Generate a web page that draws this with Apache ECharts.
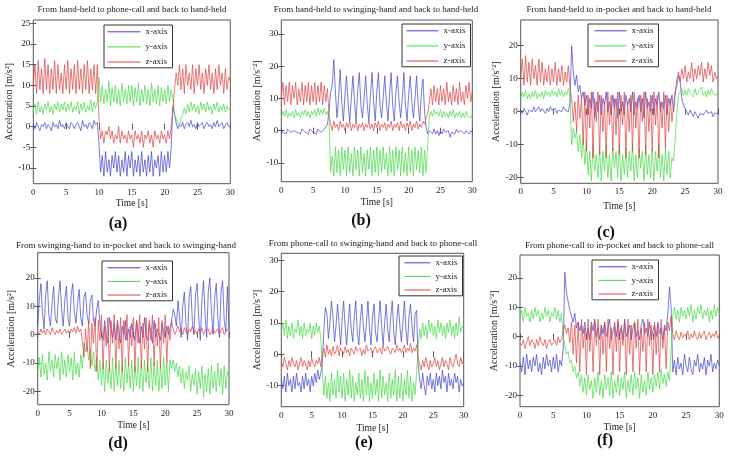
<!DOCTYPE html>
<html>
<head>
<meta charset="utf-8">
<script src="https://cdn.jsdelivr.net/npm/echarts@6/dist/echarts.min.js"></script>
<style>
html, body { margin: 0; padding: 0; background: #fff; }
#main { width: 729px; height: 462px; }
</style>
</head>
<body>
<div id="main"></div>
<script>
// sample spacing of the traces [s]
var dt = 0.25;

// (a) hand-held -> phone-call -> hand-held
var aX = [0.5,-0.5,1,0,-1,0.5,0,1,-0.5,0.5,0,-1,1,0,0.5,-0.5,1.5,0,0.5,-0.5,
  1,0,-0.5,1,0.5,-0.5,0.5,1,0,-1,1.5,0,0.5,-0.5,1,0.5,-0.5,1.5,0.5,1,
  -4,-11,-7,-12,-6,-11,-8,-12,-7,-10,-6,-11,-7,-12,-8,-11,-6,-12,-7,-10,
  -6,-12,-8,-11,-7,-12,-6,-11,-8,-12,-7,-11,-6,-12,-8,-10,-7,-12,-6,-11,
  -7,-11,-6,-10,-5,5,3,1,-0.5,0.5,0,1,-0.5,0.5,1,0,1.5,0,0.5,-0.5,
  1,0,0.5,1,-0.5,0.5,1,0,0.5,-0.5,1,0,1.5,0,0.5,1,-0.5,0.5,1,0,
  0];
var aY = [4,5.5,3,6,3.5,5,3,5.5,4,6,3.5,5,3,5.5,4,6,3.5,5.5,4,6,
  3.5,5.5,4,6,3.5,5,4,6,3,5.5,4,6,3.5,5,4,6.5,3.5,6,4.5,6,
  12,6,10,5.5,9,6,11,5,9.5,6,10,5.5,9,5,10.5,6,9,5.5,10,6,
  10,5,9.5,6,10.5,5,9,6,10,5.5,9,5,10.5,6,9,5.5,10,5,9.5,6,
  9,5.5,10,6,9,7,3,2,1,0.5,2,3,4.5,3,5.5,3.5,6,4,5.5,3.5,
  5,3,6,4,5.5,3.5,6,4,5,3,5.5,4,6,3.5,5,4,5.5,3.5,5,4,
  4.5];
var aZ = [10,15,8,16,9,14,8,16.5,9,15,8,14,9,16,8,15,9,13,8,15,
  9,16,8,14,9,15,8,16,9,14,8,15,9,16,8,14,9,15,8,15,
  2,-3,-1,-4,-1,-2,0,-3,-1,-4,-2,-3,0,-4,-1,-3,-2,-4,-1,-3,
  -2,-5,-1,-3,-2,-4,-1,-5,-2,-3,-1,-4,-2,-5,-1,-3,-2,-4,-1,-3,
  -2,-4,-1,-3,0,4,9,13,10,15,9,14,8,15,10,13,9,15,8,14,
  10,15,9,13,8,14,10,15,9,13,8,14,9,15,10,13,8,14,9,12,
  11];

// (b) hand-held -> swinging-hand -> hand-held
var bX = [0.5,-0.5,0,-1,0.5,0,-0.5,-1,0,0.5,-0.5,0,-1,0.5,0,-0.5,0,-1,0.5,0,
  -0.5,0,-1,0.5,0,-0.5,0,0.5,1,2,6,12,14,22,12,4,10,19,9,3,
  11,17,8,3,10,17,9,3,12,18,8,4,10,17,8,3,11,18,9,3,
  12,18,8,4,10,17,9,3,11,18,8,3,12,17,9,4,10,18,8,3,
  11,17,9,4,10,17,8,3,12,16,6,1,-1,0,-0.5,-1,0.5,-1,0,-1.5,
  0,-1,0.5,-0.5,-1,0,-2,-0.5,0,-1,0.5,-0.5,-1,0,-0.5,-1,0,-0.5,-1,0,
  -0.5];
var bY = [4,6,4.5,6.5,4,5.5,4.5,6,4,6.5,4.5,5.5,4,6,5,6.5,4.5,6,4,6,
  5,6.5,4.5,7,5,6.5,5,7,5,6,3,-13,-8,-14,-5,-13,-6,-14,-5,-12,
  -6,-14,-5,-13,-7,-14,-5,-12,-6,-14,-5,-13,-7,-14,-6,-12,-5,-14,-6,-13,
  -5,-14,-6,-13,-5,-12,-7,-14,-5,-13,-6,-14,-5,-12,-6,-14,-5,-13,-7,-14,
  -5,-13,-6,-14,-5,-12,-6,-13,-5,-14,-6,-13,-4,4,6,4.5,6.5,5,6,4.5,
  6.5,4,6,4.5,5.5,4,6,4.5,6.5,4,5.5,4.5,6,4,5.5,4,6,4.5,5,4,
  5];
var bZ = [10,15,8,14,9,15,8,14,10,15,8,13,9,15,8,14,9,15,8,14,
  9,15,8,14,9,15,8,14,9,13,5,2,0,3,1,2,0,3,1,2,
  0,2.5,1,3,0,2,1,3,0,2,1,2.5,0,2,1,3,0.5,2,0,2.5,
  1,3,0,2,1,2.5,0,2,1,3,0,2,1,2.5,0,3,1,2,0,2.5,
  1,3,0,2,1,3,0.5,2,1,3,2,4,5,9,13,8,14,9,13,8,
  14,9,13,8,15,9,12,8,14,9,13,8,15,9,12,8,14,10,15,9,
  12];

// (c) hand-held -> in-pocket -> hand-held
var cX = [0.5,-0.5,1,0,-1,0.5,1,0,1.5,0,0.5,1.5,0,1,0.5,-0.5,1,0,1.5,0.5,
  0,1,-0.5,0.5,1,0,1.5,0.5,1,0,3,20,12,8,11,6,8,4,6,2,
  5,-1,4,1,6,-2,3,0,5,-1,4,2,6,0,3,-1,5,1,4,-2,
  6,0,3,-1,5,2,4,0,6,-1,3,1,5,0,4,-2,6,1,3,0,
  5,-1,4,2,6,0,3,1,5,-1,4,2,5,0,6,8,11,9,4,2,
  1,0,-1,0.5,-0.5,-1.5,0,-1,-2,-0.5,0,-1,-1.5,0.5,-0.5,-1,0,-1.5,-0.5,-1,
  -0.5];
var cY = [4,6,4.5,6.5,4,5.5,4,6,4.5,6.5,4,5.5,4.5,6,4,6.5,5,6,4.5,6.5,
  5,6,4.5,7,5,6.5,4.5,6,5,7,5,-10,-5,-8,-6,-12,-7,-14,-8,-16,
  -9,-19,-12,-21,-10,-18,-13,-20,-11,-21,-12,-18,-10,-20,-13,-21,-11,-17,-12,-20,
  -10,-21,-13,-19,-11,-20,-12,-18,-10,-21,-13,-20,-11,-17,-12,-21,-10,-19,-13,-20,
  -11,-21,-12,-18,-10,-20,-13,-21,-11,-19,-12,-20,-14,-15,-8,0,5,6,7,5,
  6.5,5,7,5.5,6,4.5,7,5,6,5.5,7.5,5,6,4.5,6.5,5,7,5.5,6,5,
  6];
var cZ = [10,16,8,17,9,15,8,16,10,14,8,16,9,15,8,13,9,14,8,13,
  9,15,8,13,9,14,8,12,9,14,7,4,-3,3,-6,5,-2,4,-10,6,
  -12,5,-5,6,-14,4,-3,6,-13,5,-6,3,-14,6,-4,5,-12,4,-7,6,
  -13,5,-4,6,-14,3,-6,5,-12,6,-5,4,-14,5,-3,6,-13,4,-6,5,
  -12,6,-4,5,-14,3,-5,6,-11,5,-6,4,-3,2,6,10,12,9,13,10,
  14,9,12,10,15,9,13,10,14,11,15,9,13,10,15,11,14,9,12,10,
  11];

// (d) swinging-hand -> in-pocket -> swinging-hand
var dX = [3,12,18,8,2,14,19,7,3,11,17,6,4,13,19,9,3,12,17,6,
  3,14,18,8,4,11,16,6,3,13,15,7,4,12,14,5,3,9,12,4,
  1,-2,5,0,-3,6,2,-1,4,-2,5,1,-3,3,0,5,-2,2,-1,4,
  0,-2,5,1,-3,3,-1,6,0,-2,4,1,-3,5,-1,2,0,-2,4,1,
  -1,3,0,2,5,9,7,3,12,6,-1,10,15,4,-2,13,17,5,0,14,
  18,6,-2,12,19,7,-1,15,20,8,0,13,18,6,-1,15,19,5,1,17,
  2];
var dY = [-13,-8,-15,-7,-14,-10,-16,-6,-13,-9,-15,-7,-12,-8,-16,-6,-14,-9,-15,-7,
  -13,-8,-16,-6,-14,-10,-15,-7,-12,-3,-6,-4,-9,-5,-11,-6,-13,-8,-16,-9,
  -18,-10,-20,-9,-17,-11,-19,-8,-20,-10,-18,-9,-19,-11,-20,-8,-17,-10,-19,-9,
  -20,-11,-18,-8,-19,-10,-20,-9,-17,-11,-19,-8,-20,-10,-18,-9,-20,-11,-19,-8,
  -18,-10,-20,-9,-12,-9,-13,-10,-15,-11,-17,-12,-19,-13,-16,-11,-20,-14,-18,-12,
  -21,-13,-19,-11,-22,-14,-20,-12,-21,-11,-19,-13,-20,-10,-18,-12,-21,-11,-19,-13,
  -15];
var dZ = [1,0,2,0.5,1.5,0,2,1,0,2.5,1,0,1.5,0.5,2,0,1,2,0.5,1.5,
  0,2,1,2.5,0.5,3,1,2,-2,-8,2,-6,5,-12,4,-3,6,-13,5,-2,
  7,-12,3,-4,6,-13,5,-3,7,-12,4,-5,6,-13,5,-2,7,-11,3,-4,
  6,-13,5,-3,7,-12,4,-5,6,-13,5,-2,7,-11,4,-4,6,-12,5,-3,
  7,-10,3,-2,5,2,0,1.5,3,1,2,0,2.5,1,0,2,1,3,0.5,1.5,
  0,2,1,2.5,0,1.5,1,2,0,1,2.5,0.5,1,2,0,1.5,2.5,0,1,2,
  1];

// (e) phone-call -> swinging-hand -> phone-call
var eX = [-8,-11,-7,-12,-6,-10,-8,-12,-7,-11,-6,-10,-9,-12,-7,-11,-6,-10,-8,-12,
  -7,-10,-6,-9,-5,-8,-6,-3,8,15,13,5,10,17,12,4,9,16,10,3,
  11,17,9,3,10,16,8,4,12,17,7,3,11,16,9,4,10,17,8,3,
  12,16,7,4,11,17,9,3,10,16,8,4,12,17,7,3,11,16,9,4,
  10,17,8,3,12,16,9,4,13,14,-3,-8,-11,-6,-10,-13,-7,-10,-6,-11,
  -8,-12,-6,-10,-7,-11,-5,-9,-7,-12,-6,-10,-8,-11,-6,-9,-7,-12,-8,-10,
  -9];
var eY = [7,10,6,11,5,9,6,10,5,8,7,11,6,9,5,10,6,8,7,10,
  5,9,6,10,7,9,5,-5,-13,-7,-14,-9,-15,-6,-13,-8,-14,-5,-12,-7,
  -14,-6,-15,-8,-13,-5,-14,-7,-15,-9,-13,-6,-14,-8,-15,-5,-13,-7,-15,-9,
  -14,-6,-13,-8,-15,-5,-14,-7,-13,-9,-15,-6,-14,-8,-13,-5,-15,-7,-14,-6,
  -15,-8,-13,-5,-14,-7,-15,-9,-13,-6,2,8,5,10,6,9,5,11,7,10,
  6,9,5,11,7,10,6,9,5,10,7,11,6,9,5,10,6,12,7,9,
  8];
var eZ = [-2,-4,-1,-3,-5,-2,-4,-1,-3,-4,-2,-5,-3,-1,-4,-2,-3,-5,-2,-4,
  -1,-3,-4,-2,-3,-1,-4,0,2,-1,3,0,1.5,-0.5,2.5,0,1,3,-0.5,2,
  1,0,2.5,0.5,1.5,-0.5,2,1,0,2.5,1,0.5,2,-0.5,1.5,0,3,1,0.5,2,
  0,1.5,2.5,0.5,1,2,0,3,1,0.5,2.5,1,0,2,1.5,0.5,3,1,2,0.5,
  1.5,3,0.5,2,1,3.5,0.5,2,1,3,-1,-3,-5,-2,-4,-1,-3,-5,-2,-4,
  -3,-1,-4,-2,-5,-3,-1,-4,-2,-3,-5,-1,-3,-4,-2,0,-3,-4,-1,-3,
  -2];

// (f) phone-call -> in-pocket -> phone-call
var fX = [-9,-12,-7,-13,-6,-11,-8,-12,-7,-10,-6,-12,-9,-13,-7,-11,-6,-10,-8,-12,
  -7,-11,-6,-12,-8,-10,-4,22,15,12,9,7,5,8,3,5,2,4,1,5,
  0,3,-1,5,2,6,0,3,-1,4,1,5,0,3,6,-1,2,4,0,5,
  1,3,-1,6,0,2,4,-1,3,5,0,2,-1,4,6,1,3,0,5,-1,
  2,4,0,5,1,3,-1,4,2,8,17,10,-12,-8,-13,-7,-11,-9,-13,-6,
  -10,-12,-7,-11,-13,-8,-10,-6,-12,-9,-11,-7,-13,-8,-10,-6,-12,-9,-11,-8,
  -10];
var fY = [6,9,5,10,7,8,5,9,6,10,7,9,5,8,6,10,7,9,5,8,
  7,10,6,9,5,8,0,-3,-6,-5,-9,-8,-12,-10,-14,-12,-17,-13,-19,-14,
  -20,-13,-18,-15,-21,-14,-19,-12,-20,-15,-21,-13,-18,-14,-20,-12,-21,-15,-19,-13,
  -20,-14,-18,-12,-21,-15,-19,-13,-20,-12,-18,-14,-21,-13,-19,-15,-20,-12,-18,-14,
  -19,-13,-17,-12,-18,-11,-16,-13,-17,-12,-15,-5,7,10,6,9,5,10,7,9,
  6,10,7,11,5,9,6,10,8,11,6,9,7,10,5,9,6,11,7,10,
  8];
var fZ = [-2,-3,-1,-4,-2,0,-3,-1,-2,-4,-1,-3,0,-2,-3,-1,-4,-2,-1,-3,
  -2,-1,-3,0,-2,-1,2,4,1,3,-2,5,-6,4,-9,5,-12,6,-4,3,
  -13,6,-5,4,-12,5,-3,6,-13,4,-6,5,-12,6,-4,3,-13,5,-5,6,
  -12,4,-3,5,-13,6,-6,4,-12,5,-4,6,-13,3,-5,5,-12,6,-3,4,
  -13,5,-6,4,-12,6,-4,3,-11,5,2,7,1,-1,2,0,-1,1.5,-0.5,1,
  0,2,-1,1,-0.5,2,0,-1,1.5,-0.5,1,2,-1,0.5,1.5,-0.5,1,0,2,-0.5,
  0.5];

var seriesNames = ['x-axis', 'y-axis', 'z-axis'];
var yTicksA = [-10, -5, 0, 5, 10, 15, 20, 25];
var yTicksB = [-10, 0, 10, 20, 30];
var yTicksC = [-20, -10, 0, 10, 20];

var titles = [
  'From hand-held to phone-call and back to hand-held',
  'From hand-held to swinging-hand and back to hand-held',
  'From hand-held to in-pocket and back to hand-held',
  'From swinging-hand to in-pocket and back to swinging-hand',
  'From phone-call to swinging-hand and back to phone-call',
  'From phone-call to in-pocket and back to phone-call'
];
var tags = ['(a)', '(b)', '(c)', '(d)', '(e)', '(f)'];
var unitSq = 'Acceleration [m/s\u00B2]';
var unitNeg = 'Acceleration [m/s\u207B\u00B2]';

// layout of each panel: box = [left, top, width, height]
var panels = [
  {data: [aX, aY, aZ], ticks: yTicksA, yName: unitSq,  box: [33.3, 20, 197, 163.7],    yr: [-13.8, 25.8], lg: [104, 25, 3, 33, 5.5], tp: [132, 10], tg: [118, 224], xg: 15, yg: 16},
  {data: [bX, bY, bZ], ticks: yTicksB, yName: unitNeg, box: [281.3, 20, 191, 161.7],   yr: [-15.8, 34.3], lg: [402, 24, 4, 32, 5.5], tp: [376, 10], tg: [361, 221], xg: 16, yg: 19},
  {data: [cX, cY, cZ], ticks: yTicksC, yName: unitNeg, box: [520.7, 20, 197.3, 163.3], yr: [-21.7, 27.8], lg: [588, 24, 6, 32, 5.5], tp: [619, 10], tg: [606, 233], xg: 18, yg: 19},
  {data: [dX, dY, dZ], ticks: yTicksC, yName: unitSq,  box: [37.7, 252.7, 191.3, 152], yr: [-24.7, 28.9], lg: [102, 261, 5, 33, 4], tp: [126, 246], tg: [118, 444], xg: 16, yg: 21},
  {data: [eX, eY, eZ], ticks: yTicksB, yName: unitNeg, box: [281.3, 253.3, 182.4, 153.4], yr: [-16.7, 32.2], lg: [399, 256, 5, 26, 4], tp: [373, 244], tg: [364, 443], xg: 17, yg: 19},
  {data: [fX, fY, fZ], ticks: yTicksC, yName: unitNeg, box: [520, 255, 199.3, 151.7],  yr: [-23.9, 27.9], lg: [592, 260, 6, 28, 4], tp: [619.5, 246], tg: [605, 441], xg: 16, yg: 21}
];

var colors = ['#4040d0', '#45da45', '#e04040'];
var serif = 'Liberation Serif';
var ink = '#222';

function toPairs(arr) {
  return arr.map(function(v, i) { return [i * dt, v]; });
}

var grid = [], xAxis = [], yAxis = [], series = [], legend = [], title = [];

panels.forEach(function(p, k) {
  grid.push({
    left: p.box[0], top: p.box[1], width: p.box[2], height: p.box[3],
    show: true, borderColor: '#555', borderWidth: 1, backgroundColor: '#fff'
  });
  // bottom + top x axes
  xAxis.push({
    type: 'value', gridIndex: k, min: 0, max: 30, interval: 5, position: 'bottom',
    name: 'Time [s]', nameLocation: 'middle', nameGap: p.xg,
    nameTextStyle: {fontFamily: serif, fontSize: 9.5, color: ink},
    axisLine: {show: false},
    axisTick: {inside: true, length: 3, lineStyle: {color: '#555'}},
    axisLabel: {fontFamily: serif, fontSize: 9, color: ink, margin: 4},
    splitLine: {show: false}
  });
  xAxis.push({
    type: 'value', gridIndex: k, min: 0, max: 30, interval: 5, position: 'top',
    axisLine: {show: false},
    axisTick: {inside: true, length: 3, lineStyle: {color: '#555'}},
    axisLabel: {show: false}, splitLine: {show: false}
  });
  // left + right y axes
  yAxis.push({
    type: 'value', gridIndex: k, min: p.yr[0], max: p.yr[1], position: 'left',
    name: p.yName, nameLocation: 'middle', nameGap: p.yg, nameRotate: 90,
    nameTextStyle: {fontFamily: serif, fontSize: 10, color: ink},
    axisLine: {show: false},
    axisTick: {inside: true, length: 3, customValues: p.ticks, lineStyle: {color: '#555'}},
    axisLabel: {fontFamily: serif, fontSize: 9, color: ink, margin: 3, customValues: p.ticks},
    splitLine: {show: false}
  });
  yAxis.push({
    type: 'value', gridIndex: k, min: p.yr[0], max: p.yr[1], position: 'right',
    axisLine: {show: false},
    axisTick: {inside: true, length: 3, customValues: p.ticks, lineStyle: {color: '#555'}},
    axisLabel: {show: false}, splitLine: {show: false}
  });
  p.data.forEach(function(arr, j) {
    series.push({
      name: seriesNames[j], type: 'line', xAxisIndex: 2 * k, yAxisIndex: 2 * k,
      data: toPairs(arr), symbol: 'none', silent: true,
      lineStyle: {width: 0.7, color: colors[j]}, itemStyle: {color: colors[j]}
    });
  });
  legend.push({
    orient: 'vertical', left: p.lg[0], top: p.lg[1], data: seriesNames,
    itemWidth: p.lg[3], itemHeight: 12, itemGap: p.lg[4],
    padding: [2, 5, 1, p.lg[2]], borderColor: '#333', borderWidth: 1,
    backgroundColor: '#fff', selectedMode: false,
    itemStyle: {opacity: 0},
    lineStyle: {width: 1},
    textStyle: {fontFamily: serif, fontSize: 9, color: ink}
  });
  title.push({
    text: titles[k], left: p.tp[0], top: p.tp[1], textAlign: 'center', textVerticalAlign: 'middle',
    padding: 0, textStyle: {fontFamily: serif, fontSize: 9, fontWeight: 'normal', color: ink}
  });
  title.push({
    text: tags[k], left: p.tg[0], top: p.tg[1], textAlign: 'center', textVerticalAlign: 'middle',
    padding: 0, textStyle: {fontFamily: serif, fontSize: 16, fontWeight: 'bold', color: '#111'}
  });
});

var chart = echarts.init(document.getElementById('main'), null, {renderer: 'canvas'});
chart.setOption({
  animation: false,
  backgroundColor: '#fff',
  title: title,
  legend: legend,
  grid: grid,
  xAxis: xAxis,
  yAxis: yAxis,
  series: series
});
</script>
</body>
</html>
